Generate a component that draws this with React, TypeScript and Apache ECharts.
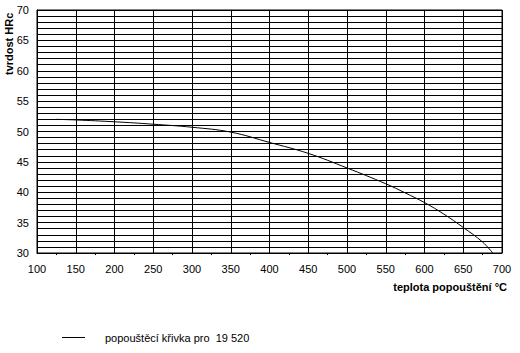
import React, { useEffect, useRef } from "react";
import * as echarts from "echarts";

const temps = [125, 150, 200, 250, 300, 350, 400, 450, 500, 550, 575, 600, 625, 650, 675, 688];
const hardness = [52.0, 51.9, 51.6, 51.2, 50.7, 49.9, 48.2, 46.4, 44.0, 41.4, 39.9, 38.3, 36.4, 34.2, 31.8, 30.0];
const seriesName = "popouštěcí křivka pro  19 520";
const xName = "teplota popouštění °C";
const yName = "tvrdost HRc";

export default function App() {
  const ref = useRef<HTMLDivElement>(null);
  useEffect(() => {
    const chart = echarts.init(ref.current!, null, { renderer: "svg" });
    const font = "Liberation Sans, Arial, sans-serif";
    chart.setOption({
      animation: false,
      backgroundColor: "#ffffff",
      grid: { left: 37, right: 18, top: 10, bottom: 100, show: true, borderColor: "#000", borderWidth: 1 },
      xAxis: {
        type: "value",
        min: 100,
        max: 700,
        interval: 50,
        axisLine: { show: true, lineStyle: { color: "#000", width: 1 } },
        axisTick: { show: false },
        minorTick: { show: true, splitNumber: 2, length: 2, lineStyle: { color: "#000" } },
        axisLabel: { color: "#000", fontFamily: font, fontSize: 11, margin: 10 },
        splitLine: { show: true, lineStyle: { color: "#000", width: 1 } },
      },
      yAxis: {
        type: "value",
        min: 30,
        max: 70,
        interval: 5,
        axisLine: { show: true, lineStyle: { color: "#000", width: 1 } },
        axisTick: { show: false },
        axisLabel: { color: "#000", fontFamily: font, fontSize: 11, margin: 8 },
        splitLine: { show: true, lineStyle: { color: "#000", width: 1 } },
        minorSplitLine: { show: true, lineStyle: { color: "#000", width: 1 } },
        minorTick: { show: false, splitNumber: 5 },
      },
      legend: {
        show: true,
        left: 62,
        top: 332,
        padding: 0,
        icon: "rect",
        itemWidth: 23,
        itemHeight: 1,
        textStyle: { color: "#000", fontFamily: font, fontSize: 11, padding: [0, 0, 0, 15] },
        data: [{ name: seriesName, itemStyle: { color: "#000" } }],
      },
      graphic: [
        {
          type: "text",
          x: 3,
          y: 75,
          rotation: Math.PI / 2,
          style: { text: yName, fill: "#000", font: `bold 11px ${font}`, textAlign: "left", textVerticalAlign: "top" },
        },
        {
          type: "text",
          x: 507,
          y: 281,
          style: { text: xName, fill: "#000", font: `bold 11px ${font}`, textAlign: "right", textVerticalAlign: "top" },
        },
      ],
      series: [
        {
          name: seriesName,
          type: "line",
          data: temps.map((t, i) => [t, hardness[i]]),
          smooth: 0.4,
          showSymbol: false,
          lineStyle: { color: "#000", width: 1 },
          itemStyle: { color: "#000" },
        },
      ],
    });
    return () => chart.dispose();
  }, []);
  return <div ref={ref} style={{ width: 520, height: 353, position: "absolute", left: 0, top: 0 }} />;
}
